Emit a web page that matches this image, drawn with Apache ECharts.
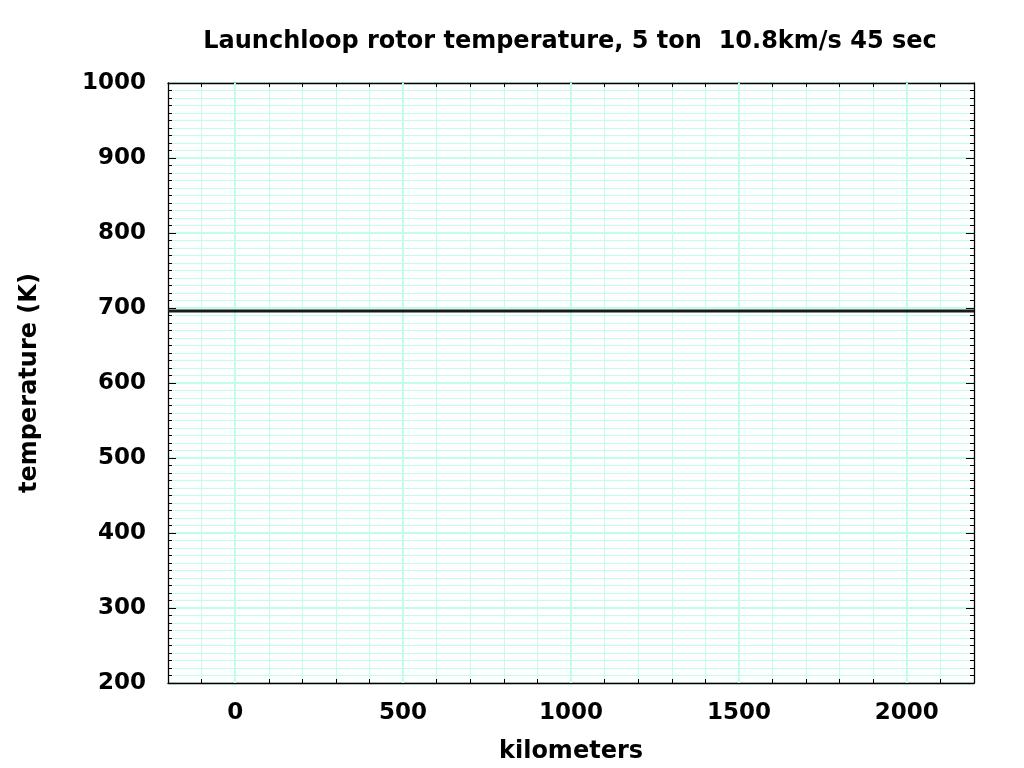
<!DOCTYPE html>
<html>
<head>
<meta charset="utf-8">
<script src="https://cdn.jsdelivr.net/npm/echarts@6/dist/echarts.min.js"></script>
<style>html,body{margin:0;padding:0;background:#fff;}#c{width:1024px;height:768px;}</style>
</head>
<body>
<div id="c"></div>
<script>
const titleText = 'Launchloop rotor temperature, 5 ton  10.8km/s 45 sec';
const xName = 'kilometers';
const yName = 'temperature (K)';
const xMin = -200, xMax = 2200, xStep = 100;
const yMin = 200, yMax = 1000, yStep = 100;
const xMajorTicks = [0, 500, 1000, 1500, 2000];
const distanceKm = [-200, 2200];
const temperatureK = [696, 696];

const FONT = 'DejaVu Sans';
const GRID = '#c2fcea';
const AX = '#000';
const plain = v => String(v);

function xAxisBase(pos) {
  return {
    type: 'value', position: pos, min: xMin, max: xMax, interval: xStep,
    axisLine: { show: true, onZero: false, lineStyle: { color: AX, width: 1.3 } },
    axisTick: { show: true, inside: true, length: 4, lineStyle: { color: AX, width: 1 } },
    axisLabel: { show: false },
    splitLine: { show: false }
  };
}
function xAxisMajor(pos) {
  return {
    type: 'value', position: pos, min: xMin, max: xMax, interval: xStep,
    axisLine: { show: false, onZero: false },
    axisTick: { show: true, inside: true, length: 8, customValues: xMajorTicks, lineStyle: { color: AX, width: 1 } },
    axisLabel: { show: false },
    splitLine: { show: false }
  };
}

const xBottom = xAxisBase('bottom');
xBottom.splitLine = { show: true, lineStyle: { color: GRID, width: 1 } };
xBottom.axisLabel = {
  show: true, customValues: xMajorTicks, margin: 19, formatter: plain,
  fontFamily: FONT, fontWeight: 'bold', fontSize: 23, color: '#000'
};
xBottom.name = xName;
xBottom.nameLocation = 'middle';
xBottom.nameGap = 57;
xBottom.nameTextStyle = { fontFamily: FONT, fontWeight: 'bold', fontSize: 24, color: '#000' };

function yAxisDef(pos, labels) {
  const a = {
    type: 'value', position: pos, min: yMin, max: yMax, interval: yStep,
    axisLine: { show: true, onZero: false, lineStyle: { color: AX, width: 1.3 } },
    axisTick: { show: true, inside: true, length: 8, lineStyle: { color: AX, width: 1 } },
    minorTick: { show: true, splitNumber: 10, length: 4, lineStyle: { color: AX, width: 1 } },
    axisLabel: { show: labels, margin: 22, formatter: plain, fontFamily: FONT, fontWeight: 'bold', fontSize: 23, color: '#000' },
    splitLine: { show: labels, lineStyle: { color: GRID, width: 2 } },
    minorSplitLine: { show: labels, lineStyle: { color: GRID, width: 1 } }
  };
  if (labels) {
    a.name = yName;
    a.nameLocation = 'middle';
    a.nameGap = 126;
    a.nameTextStyle = { fontFamily: FONT, fontWeight: 'bold', fontSize: 24, color: '#000' };
  }
  return a;
}

const chart = echarts.init(document.getElementById('c'), null, { renderer: 'canvas' });
chart.setOption({
  animation: false,
  backgroundColor: '#fff',
  title: {
    text: titleText, left: 565, top: 25, textAlign: 'center',
    textStyle: { fontFamily: FONT, fontWeight: 'bold', fontSize: 24, color: '#000' }
  },
  grid: { left: 168, right: 50, top: 83, bottom: 85, containLabel: false, outerBoundsMode: 'none' },
  xAxis: [xBottom, xAxisMajor('bottom'), xAxisBase('top'), xAxisMajor('top')],
  yAxis: [yAxisDef('left', true), yAxisDef('right', false)],
  series: [
    {
      type: 'line', xAxisIndex: 0, yAxisIndex: 0, data: [], z: 1, silent: true,
      markLine: {
        silent: true, symbol: ['none', 'none'], animation: false,
        label: { show: false },
        lineStyle: { color: GRID, width: 2, type: 'solid' },
        data: xMajorTicks.map(v => ({ xAxis: v }))
      }
    },
    {
      type: 'line', xAxisIndex: 0, yAxisIndex: 0, z: 5,
      data: distanceKm.map((x, i) => [x, temperatureK[i]]),
      showSymbol: false, symbol: 'none',
      lineStyle: { color: '#1a1a1a', width: 3 }
    }
  ]
});
</script>
</body>
</html>
